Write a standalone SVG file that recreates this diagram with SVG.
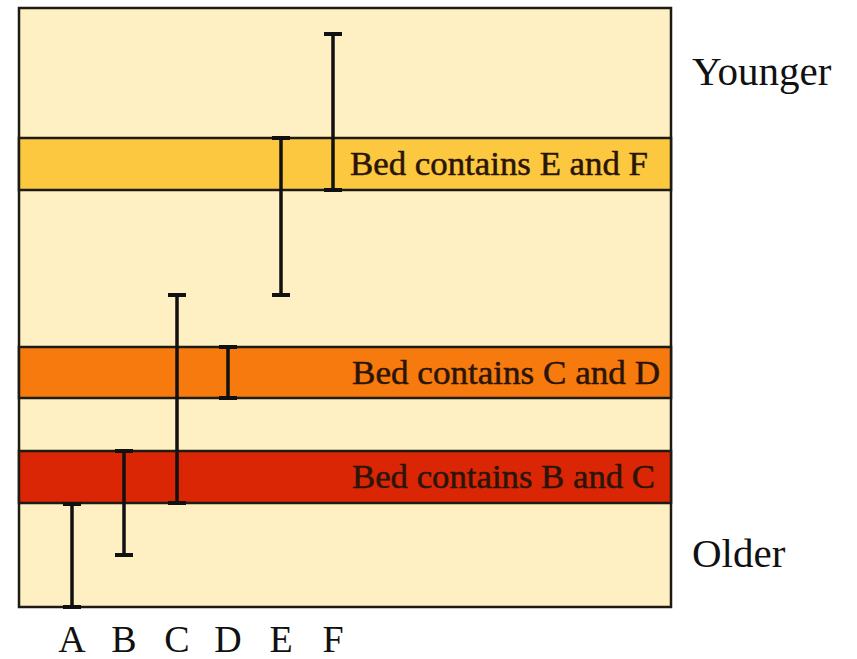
<svg xmlns="http://www.w3.org/2000/svg" width="857" height="659" viewBox="0 0 857 659">
  <style>
    .frame { fill: #FEF0C2; stroke: #1E1A14; stroke-width: 2.5; }
    .bed { stroke: #1E1A14; stroke-width: 2.5; }
    .range { stroke: #111; stroke-width: 3.5; fill: none; }
    .cap { stroke: #111; stroke-width: 4; fill: none; }
    .bedlabel { font-family: "Liberation Serif", "DejaVu Serif", serif; font-size: 34px; fill: #2A1508; stroke: #2A1508; stroke-width: 0.5; }
    .side { font-family: "Liberation Serif", "DejaVu Serif", serif; font-size: 41px; fill: #111; }
    .fossil { font-family: "Liberation Serif", "DejaVu Serif", serif; font-size: 38px; fill: #111; text-anchor: middle; }
  </style>
  <rect width="857" height="659" fill="#FFFFFF"/>

  <!-- rock column -->
  <rect id="column" class="frame" x="19" y="8" width="652" height="599"/>

  <!-- beds -->
  <g id="bed-ef">
    <rect class="bed" x="19" y="138" width="652" height="52" fill="#FBC840"/>
    <text class="bedlabel" x="350" y="175" textLength="298" lengthAdjust="spacingAndGlyphs">Bed contains E and F</text>
  </g>
  <g id="bed-cd">
    <rect class="bed" x="19" y="347" width="652" height="51" fill="#F77A0E"/>
    <text class="bedlabel" x="352" y="384" textLength="308" lengthAdjust="spacingAndGlyphs">Bed contains C and D</text>
  </g>
  <g id="bed-bc">
    <rect class="bed" x="19" y="451" width="652" height="52" fill="#DA2604"/>
    <text class="bedlabel" x="352" y="488" textLength="303" lengthAdjust="spacingAndGlyphs">Bed contains B and C</text>
  </g>

  <!-- fossil ranges -->
  <g id="ranges">
    <g id="range-a">
      <line class="range" x1="72" y1="504" x2="72" y2="607"/>
      <line class="cap" x1="63" y1="504" x2="81" y2="504"/>
      <line class="cap" x1="63" y1="607" x2="81" y2="607"/>
    </g>
    <g id="range-b">
      <line class="range" x1="124" y1="451" x2="124" y2="555"/>
      <line class="cap" x1="115" y1="451" x2="133" y2="451"/>
      <line class="cap" x1="115" y1="555" x2="133" y2="555"/>
    </g>
    <g id="range-c">
      <line class="range" x1="177" y1="295" x2="177" y2="503"/>
      <line class="cap" x1="168" y1="295" x2="186" y2="295"/>
      <line class="cap" x1="168" y1="503" x2="186" y2="503"/>
    </g>
    <g id="range-d">
      <line class="range" x1="228" y1="347" x2="228" y2="398"/>
      <line class="cap" x1="219" y1="347" x2="237" y2="347"/>
      <line class="cap" x1="219" y1="398" x2="237" y2="398"/>
    </g>
    <g id="range-e">
      <line class="range" x1="281" y1="138" x2="281" y2="295"/>
      <line class="cap" x1="272" y1="138" x2="290" y2="138"/>
      <line class="cap" x1="272" y1="295" x2="290" y2="295"/>
    </g>
    <g id="range-f">
      <line class="range" x1="333" y1="34" x2="333" y2="190"/>
      <line class="cap" x1="324" y1="34" x2="342" y2="34"/>
      <line class="cap" x1="324" y1="190" x2="342" y2="190"/>
    </g>
  </g>

  <!-- fossil letters -->
  <g id="fossil-labels">
    <text class="fossil" x="72" y="652">A</text>
    <text class="fossil" x="124" y="652">B</text>
    <text class="fossil" x="177" y="652">C</text>
    <text class="fossil" x="228" y="652">D</text>
    <text class="fossil" x="281" y="652">E</text>
    <text class="fossil" x="333" y="652">F</text>
  </g>

  <!-- age direction -->
  <text id="younger" class="side" x="692" y="85">Younger</text>
  <text id="older" class="side" x="692" y="567">Older</text>
</svg>
